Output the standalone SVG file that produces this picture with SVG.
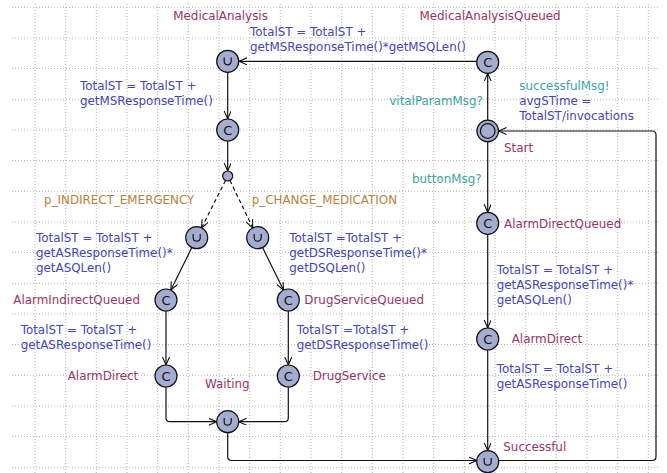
<svg xmlns="http://www.w3.org/2000/svg" width="667" height="473" viewBox="0 0 667 473">
<style>
.grid{fill:none;stroke:#b4b4b4;stroke-width:1;stroke-dasharray:1,2}
.edge{fill:none;stroke:#111;stroke-width:1.2}
.dash{stroke-dasharray:4,3}
.node{fill:#a4acd0;stroke:#111;stroke-width:1.2}
.sym{fill:none;stroke:#111;stroke-width:1.2}
text{font-family:"DejaVu Sans","Liberation Sans",sans-serif;font-size:11.9px}
.nm{fill:#993366}
.up{fill:#4444bb}
.sy{fill:#3aa5a5}
.gd{fill:#b8823c}
.c{fill:#111;font-size:13px;text-anchor:middle}
</style>
<defs>
<marker id="arr" markerUnits="userSpaceOnUse" markerWidth="10" markerHeight="10" refX="8" refY="3.5" orient="auto">
<path d="M0,0 L8,3.5 L0,7" fill="none" stroke="#111" stroke-width="1.1"/>
</marker>
</defs>
<rect width="667" height="473" fill="#ffffff"/>
<g id="grid">
<path class="grid" d="M12,7.3H660M12,38H660M12,68.6H660M12,99.3H660M12,130H660M12,160.6H660M12,191.3H660M12,222H660M12,252.6H660M12,283.3H660M12,314H660M12,344.6H660M12,375.3H660M12,406H660M12,436.6H660M12,467.3H660"/>
<path class="grid" d="M35,4V473M65.7,4V473M96.3,4V473M127,4V473M157.7,4V473M188.3,4V473M219,4V473M249.7,4V473M280.3,4V473M311,4V473M341.7,4V473M372.3,4V473M403,4V473M433.7,4V473M464.3,4V473M495,4V473M525.7,4V473M556.3,4V473M587,4V473M617.7,4V473M648.3,4V473"/>
</g>
<g id="connectors">
<path class="edge" marker-end="url(#arr)" d="M476.7,61.3H239"/>
<path class="edge" marker-end="url(#arr)" d="M227.7,72V119"/>
<path class="edge" marker-end="url(#arr)" d="M227.7,141V171"/>
<path class="edge dash" marker-end="url(#arr)" d="M225.5,180.5L201.6,227.9"/>
<path class="edge dash" marker-end="url(#arr)" d="M230,180.5L252.8,227.9"/>
<path class="edge" marker-end="url(#arr)" d="M191.8,247.6L170.9,290.1"/>
<path class="edge" marker-end="url(#arr)" d="M262.6,247.6L283.5,290.1"/>
<path class="edge" marker-end="url(#arr)" d="M166,311V365"/>
<path class="edge" marker-end="url(#arr)" d="M288.3,311V365"/>
<path class="edge" marker-end="url(#arr)" d="M166,387V417.7Q166,421.7 170,421.7H216.7"/>
<path class="edge" marker-end="url(#arr)" d="M288.3,387V417.7Q288.3,421.7 284.3,421.7H238.7"/>
<path class="edge" marker-end="url(#arr)" d="M227.7,432.7V456.5Q227.7,460.5 231.7,460.5H476.8"/>
<path class="edge" marker-end="url(#arr)" d="M487.7,120V73.3"/>
<path class="edge" marker-end="url(#arr)" d="M487.7,141.7V212.3"/>
<path class="edge" marker-end="url(#arr)" d="M487.7,234.3V328"/>
<path class="edge" marker-end="url(#arr)" d="M487.7,350V450.7"/>
<path class="edge" marker-end="url(#arr)" d="M498.7,460.5H652Q656,460.5 656,456.5V135Q656,131 652,131H498.6"/>
</g>
<g id="edge-labels">
<text class="up" x="250" y="36">TotalST = TotalST +</text>
<text class="up" x="250" y="51">getMSResponseTime()*getMSQLen()</text>
<text class="up" x="80" y="90">TotalST = TotalST +</text>
<text class="up" x="80" y="105">getMSResponseTime()</text>
<text class="gd" x="44" y="204">p_INDIRECT_EMERGENCY</text>
<text class="gd" x="251.7" y="204">p_CHANGE_MEDICATION</text>
<text class="up" x="36" y="242.3">TotalST = TotalST +</text>
<text class="up" x="36" y="257.3">getASResponseTime()*</text>
<text class="up" x="36" y="272.3">getASQLen()</text>
<text class="up" x="289.3" y="242.3">TotalST =TotalST +</text>
<text class="up" x="289.3" y="257.3">getDSResponseTime()*</text>
<text class="up" x="289.3" y="272.3">getDSQLen()</text>
<text class="up" x="20.7" y="334.3">TotalST = TotalST +</text>
<text class="up" x="20.7" y="349.3">getASResponseTime()</text>
<text class="up" x="296.7" y="334.3">TotalST =TotalST +</text>
<text class="up" x="296.7" y="349.3">getDSResponseTime()</text>
<text class="sy" x="389.3" y="105">vitalParamMsg?</text>
<text class="sy" x="519.3" y="90">successfulMsg!</text>
<text class="up" x="519.3" y="105">avgSTime =</text>
<text class="up" x="519.3" y="120">TotalST/invocations</text>
<text class="sy" x="412" y="183">buttonMsg?</text>
<text class="up" x="496.7" y="274">TotalST = TotalST +</text>
<text class="up" x="496.7" y="289">getASResponseTime()*</text>
<text class="up" x="496.7" y="304">getASQLen()</text>
<text class="up" x="496.7" y="373.3">TotalST = TotalST +</text>
<text class="up" x="496.7" y="388.3">getASResponseTime()</text>
</g>
<g id="MedicalAnalysis">
<circle class="node" cx="227.7" cy="61.3" r="11"/>
<path class="sym" d="M224.2,57.5V61.3A3.5,3.5 0 0 0 231.2,61.3V57.5"/>
<text class="nm" x="173.3" y="20">MedicalAnalysis</text>
</g>
<g id="MedicalAnalysisC">
<circle class="node" cx="227.7" cy="130" r="11"/>
<text class="c" x="227.7" y="134.7">C</text>
</g>
<g id="Branch">
<circle class="node" cx="227.7" cy="176" r="5"/>
</g>
<g id="AlarmIndirectU">
<circle class="node" cx="196.7" cy="237.7" r="11"/>
<path class="sym" d="M193.2,233.9V237.7A3.5,3.5 0 0 0 200.2,237.7V233.9"/>
</g>
<g id="DrugServiceU">
<circle class="node" cx="257.7" cy="237.7" r="11"/>
<path class="sym" d="M254.2,233.9V237.7A3.5,3.5 0 0 0 261.2,237.7V233.9"/>
</g>
<g id="AlarmIndirectQueued">
<circle class="node" cx="166" cy="300" r="11"/>
<text class="c" x="166" y="304.7">C</text>
<text class="nm" x="13.3" y="304">AlarmIndirectQueued</text>
</g>
<g id="DrugServiceQueued">
<circle class="node" cx="288.3" cy="300" r="11"/>
<text class="c" x="288.3" y="304.7">C</text>
<text class="nm" x="304.3" y="304">DrugServiceQueued</text>
</g>
<g id="AlarmDirectLeft">
<circle class="node" cx="166" cy="376" r="11"/>
<text class="c" x="166" y="380.7">C</text>
<text class="nm" x="67.7" y="380">AlarmDirect</text>
</g>
<g id="DrugService">
<circle class="node" cx="288.3" cy="376" r="11"/>
<text class="c" x="288.3" y="380.7">C</text>
<text class="nm" x="312.7" y="380">DrugService</text>
</g>
<g id="Waiting">
<circle class="node" cx="227.7" cy="421.7" r="11"/>
<path class="sym" d="M224.2,417.9V421.7A3.5,3.5 0 0 0 231.2,421.7V417.9"/>
<text class="nm" x="205" y="388.3">Waiting</text>
</g>
<g id="MedicalAnalysisQueued">
<circle class="node" cx="487.7" cy="62.3" r="11"/>
<text class="c" x="487.7" y="67">C</text>
<text class="nm" x="419.5" y="20">MedicalAnalysisQueued</text>
</g>
<g id="Start">
<circle class="node" cx="487.7" cy="131" r="10.8"/>
<circle class="sym" cx="487.7" cy="131" r="7.3"/>
<text class="nm" x="504" y="151.7">Start</text>
</g>
<g id="AlarmDirectQueued">
<circle class="node" cx="487.7" cy="223.3" r="11"/>
<text class="c" x="487.7" y="228">C</text>
<text class="nm" x="504" y="227.7">AlarmDirectQueued</text>
</g>
<g id="AlarmDirectRight">
<circle class="node" cx="487.7" cy="339" r="11"/>
<text class="c" x="487.7" y="343.7">C</text>
<text class="nm" x="511.7" y="342.7">AlarmDirect</text>
</g>
<g id="Successful">
<circle class="node" cx="487.7" cy="461.7" r="11"/>
<path class="sym" d="M484.2,457.9V461.7A3.5,3.5 0 0 0 491.2,461.7V457.9"/>
<text class="nm" x="503.3" y="450.7">Successful</text>
</g>
</svg>
